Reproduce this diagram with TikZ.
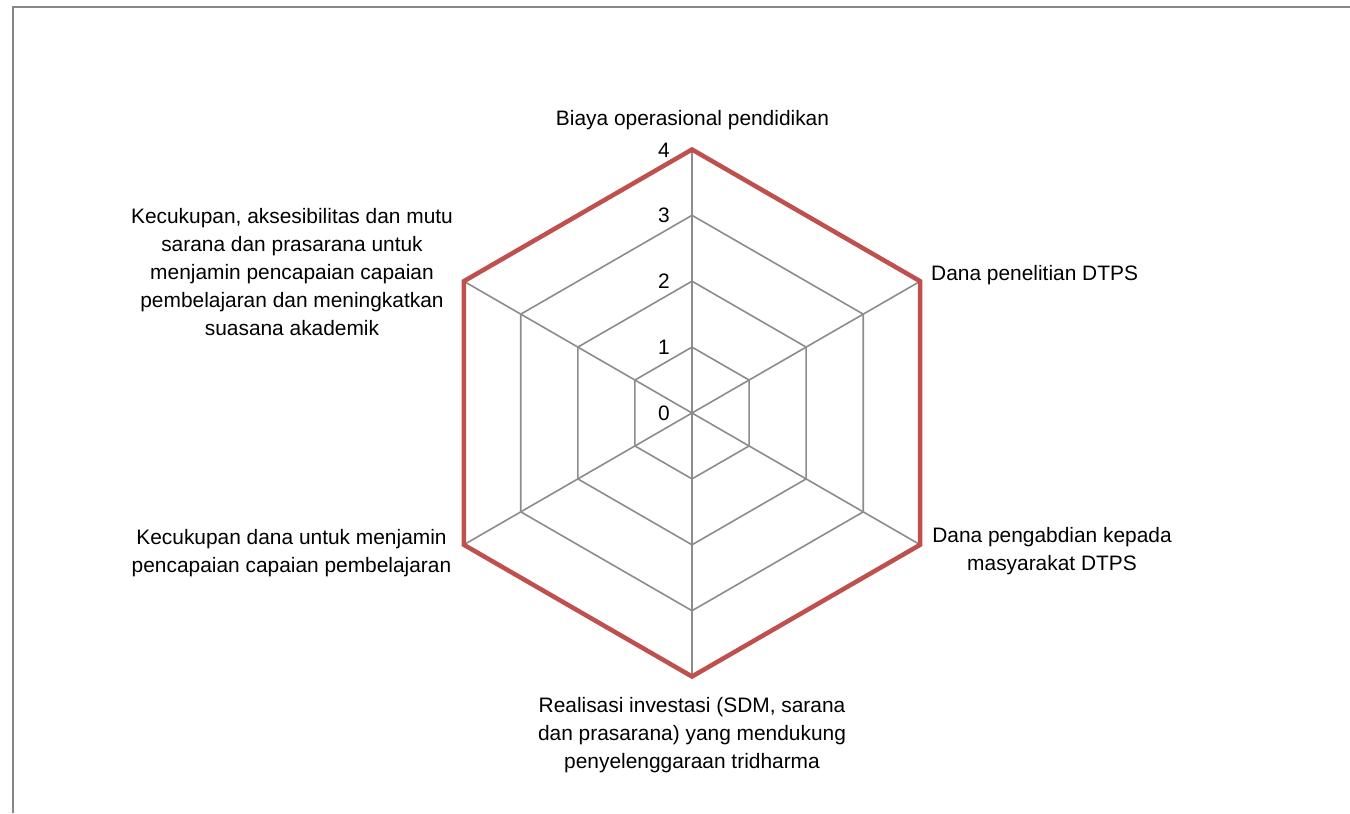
\documentclass[tikz,border=0pt]{standalone}
\usepackage{fontspec}
\setmainfont{Liberation Sans}
\definecolor{gridgray}{HTML}{8C8C8C}
\definecolor{seriesred}{HTML}{C0504D}
\definecolor{framegray}{HTML}{878787}
\begin{document}
\begin{tikzpicture}[x=1bp,y=-1bp,
  gridline/.style={draw=gridgray,line width=1.6bp},
  series/.style={draw=seriesred,line width=4.5bp,line join=miter},
  framestyle/.style={draw=framegray,line width=2.4bp},
  axislabel/.style={inner sep=0pt,align=center,text=black,font=\fontsize{20.9bp}{28bp}\selectfont},
  ticklabel/.style={inner sep=0pt,anchor=east,text=black,font=\fontsize{20.9bp}{28bp}\selectfont}]
\useasboundingbox (0,0) rectangle (1350,813);
\fill[white] (0,0) rectangle (1350,813);
\draw[framestyle] (13,813) -- (13,7) -- (1350,7);
\begin{scope}[shift={(692,413)}]
  \coordinate (c) at (0,0);
  \foreach \k in {1,2,3}
    \draw[gridline] (-90:{65.9*\k}) -- (-30:{65.9*\k}) -- (30:{65.9*\k}) -- (90:{65.9*\k}) -- (150:{65.9*\k}) -- (210:{65.9*\k}) -- cycle;
  \foreach \a/\n in {-90/v1,-30/v2,30/v3,90/v4,150/v5,210/v6}
    \coordinate (\n) at (\a:263.5);
  \foreach \n in {v1,v2,v3,v4,v5,v6}
    \draw[gridline] (c) -- (\n);
  \draw[series] (v1) -- (v2) -- (v3) -- (v4) -- (v5) -- (v6) -- cycle;
\end{scope}
\node[ticklabel] (t0) at (670,413) {0};
\node[ticklabel] (t1) at (670,347) {1};
\node[ticklabel] (t2) at (670,281.5) {2};
\node[ticklabel] (t3) at (670,215.5) {3};
\node[ticklabel] (t4) at (670,150) {4};
\node[axislabel] (a1) at (692.5,120) {Biaya operasional pendidikan};
\node[axislabel,anchor=west] (a2) at (931,275) {Dana penelitian DTPS};
\node[axislabel] (a3) at (1052,551) {Dana pengabdian kepada\\masyarakat DTPS};
\node[axislabel] (a4) at (692,735) {Realisasi investasi (SDM, sarana\\dan prasarana) yang mendukung\\penyelenggaraan tridharma};
\node[axislabel] (a5) at (291.5,553) {Kecukupan dana untuk menjamin\\pencapaian capaian pembelajaran};
\node[axislabel] (a6) at (292,272) {Kecukupan, aksesibilitas dan mutu\\sarana dan prasarana untuk\\menjamin pencapaian capaian\\pembelajaran dan meningkatkan\\suasana akademik};
\end{tikzpicture}
\end{document}
